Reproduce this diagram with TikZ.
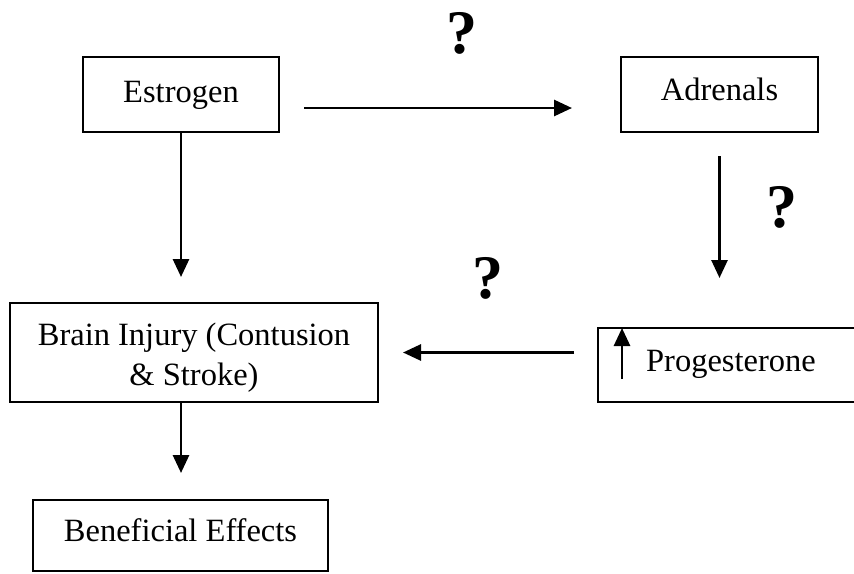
\documentclass[tikz,border=0pt]{standalone}
\usepackage{fontspec}
\setmainfont{Liberation Serif}
\usetikzlibrary{arrows.meta}
\begin{document}
\begin{tikzpicture}[x=1pt, y=-1pt,
  box/.style={draw, line width=2pt, rectangle, inner sep=0pt,
    font=\fontsize{32.5}{40}\selectfont, align=center},
  arr/.style={line width=2.8pt, -{Triangle[length=18pt,width=16pt]}},
  qmark/.style={inner sep=0pt, font=\fontsize{62}{62}\selectfont\bfseries}]
  \fill[white] (0,0) rectangle (854,573);
  \useasboundingbox (0,0) rectangle (854,573);
  \clip (0,0) rectangle (854,573);

  % boxes
  \node[box, minimum width=196pt, minimum height=75pt, text height=22pt, text depth=7pt]
    (est) at (181,94.5) {Estrogen};
  \node[box, minimum width=197pt, minimum height=75pt, text height=22pt, text depth=11pt]
    (adr) at (719.5,94.5) {Adrenals};
  \node[box, minimum width=368pt, minimum height=99pt] (brain) at (194,352.5)
    {\rule{0pt}{33pt}Brain Injury (Contusion\\ \& Stroke)};
  \node[box, minimum width=266pt, minimum height=74pt, text height=22pt, text depth=10pt]
    (prog) at (731,365) {Progesterone};
  \node[box, minimum width=295pt, minimum height=71pt, text height=22pt, text depth=11pt]
    (ben) at (180.5,535.5) {Beneficial Effects};

  % rise marker inside the progesterone box
  \draw[arr] ([xshift=25pt,yshift=24pt]prog.south west) -- ([xshift=25pt,yshift=-1pt]prog.north west);

  % connectors
  \draw[arr] ([xshift=24pt,yshift=-13.5pt]est.east) -- ([xshift=-48pt,yshift=-13.5pt]adr.west);
  \draw[arr, shorten <=23pt, shorten >=49pt] (adr.south) -- (adr.south |- prog.north);
  \draw[arr, shorten <=23pt, shorten >=24pt] (prog.west |- brain.east) -- (brain.east);
  \draw[arr, shorten >=25pt] (est.south) -- (est.south |- brain.north);
  \draw[arr, shorten >=26pt] (brain.south -| est.south) -- (est.south |- ben.north);

  % open questions
  \node[qmark] (q1) at (462,33) {?};
  \node[qmark] (q2) at (782,207) {?};
  \node[qmark] (q3) at (488,278) {?};
\end{tikzpicture}
\end{document}
